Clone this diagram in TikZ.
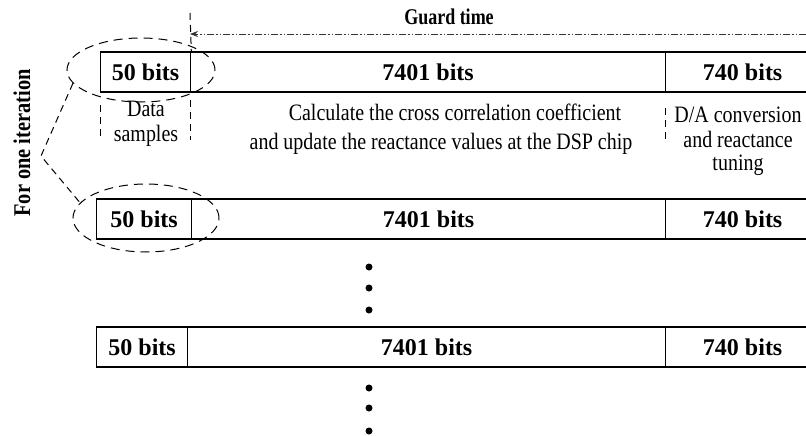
\documentclass[tikz,border=0pt]{standalone}
\usepackage{fontspec}
\setmainfont{Liberation Serif}
\newfontfamily\condfont{Liberation Serif}[FakeStretch=0.85]
\newfontfamily\gfont{Liberation Serif}[FakeStretch=0.8]
\usetikzlibrary{shapes.geometric,arrows.meta}
\begin{document}
\begin{tikzpicture}[x=1pt,y=-1pt,
  cell/.style={draw, line width=1.3pt, minimum height=40pt, inner sep=0pt, anchor=west,
    font=\fontsize{24}{28}\selectfont\bfseries},
  ell/.style={draw, ellipse, inner sep=0pt, line width=1pt, dash pattern=on 9pt off 6pt},
  dsh/.style={line width=1pt, dash pattern=on 7pt off 5pt},
  guard/.style={line width=0.8pt, draw=black!80, dash pattern=on 7pt off 2pt on 1.5pt off 2pt on 1.5pt off 2pt},
  txt/.style={anchor=base, inner sep=0pt, font=\condfont\fontsize{23.5}{26}\selectfont},
  gtxt/.style={inner sep=0pt, font=\gfont\fontsize{22.5}{26}\selectfont\bfseries},
  dot/.style={circle, fill, inner sep=0pt, minimum size=7pt}]
\useasboundingbox (0,0) rectangle (806,436);

% row 1
\node[cell, minimum width=90pt]  (a1) at (100,72) {50 bits};
\node[cell, minimum width=475pt] (b1) at (190,72) {7401 bits};
\node[cell, minimum width=154pt] (c1) at (665,72) {740 bits};
% row 2
\node[cell, minimum width=95pt]  (a2) at (96,219) {50 bits};
\node[cell, minimum width=474pt] (b2) at (191,219) {7401 bits};
\node[cell, minimum width=154pt] (c2) at (665,219) {740 bits};
% row 3
\node[cell, minimum width=91pt]  (a3) at (96,347) {50 bits};
\node[cell, minimum width=478pt] (b3) at (187,347) {7401 bits};
\node[cell, minimum width=154pt] (c3) at (665,347) {740 bits};

% ellipses
\node[ell, minimum width=148pt, minimum height=64pt] (e1) at (141,70) {};
\node[ell, minimum width=146pt, minimum height=68pt] (e2) at (146,218) {};
\coordinate (v) at (41,156);
\draw[dsh] (e1.191) -- (v) -- (e2.167);

% guard time
\coordinate (gtop) at (190,13);
\coordinate (g1) at (190,34);
\coordinate (g2) at (806,34);
\draw[dsh] (gtop) -- (a1.north east);
\draw[guard, -{Stealth[length=8pt,width=6pt]}] (g2) -- (g1);
\node[gtxt] (gt) at (449,17) {Guard time};

% side label
\node[gtxt, rotate=90, font=\condfont\fontsize{24}{26}\selectfont\bfseries] (it) at (22,143) {For one iteration};

% dashed markers under row 1
\coordinate (d1t) at (100,105); \coordinate (d1b) at (100,140);
\coordinate (d2t) at (190,100); \coordinate (d2b) at (190,140);
\coordinate (d3t) at (665,108); \coordinate (d3b) at (665,140);
\draw[dsh] (d1t) -- (d1b);
\draw[dsh] (d2t) -- (d2b);
\draw[dsh] (d3t) -- (d3b);

% descriptions
\node[txt] (ds1) at (146,117) {Data};
\node[txt] (ds2) at (146,141) {samples};
\node[txt] (cc1) at (455,121) {Calculate the cross correlation coefficient};
\node[txt] (cc2) at (441,149) {and update the reactance values at the DSP chip};
\node[txt] (da1) at (738,122) {D/A conversion};
\node[txt] (da2) at (738,147) {and reactance};
\node[txt] (da3) at (738,170) {tuning};

% dots
\node[dot] (p1) at (369,267) {};
\node[dot] (p2) at (369,288) {};
\node[dot] (p3) at (369,310) {};
\node[dot] (p4) at (369,388) {};
\node[dot] (p5) at (369,408) {};
\node[dot] (p6) at (369,431) {};
\end{tikzpicture}
\end{document}
